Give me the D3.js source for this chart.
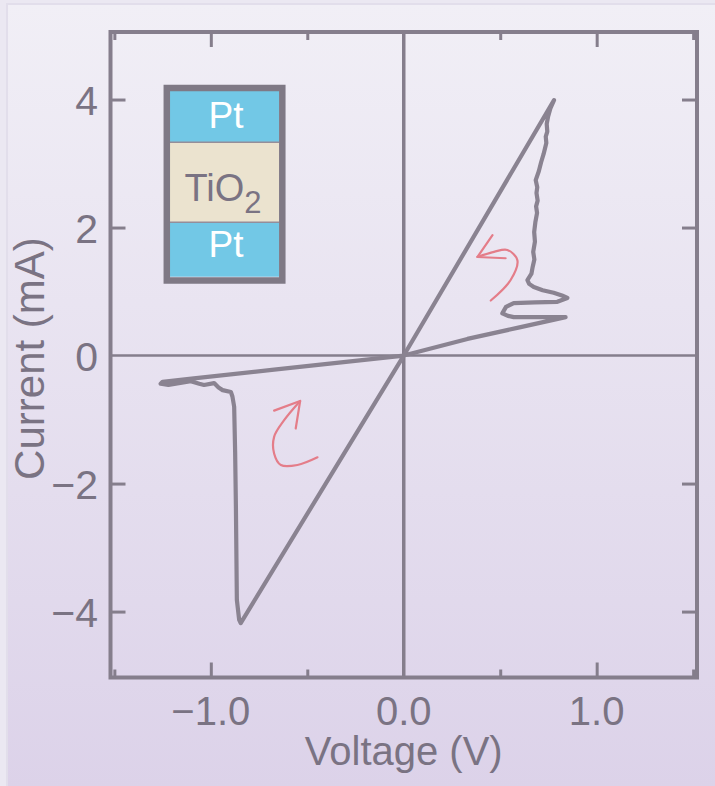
<!DOCTYPE html>
<html>
<head>
<meta charset="utf-8">
<script src="https://cdn.jsdelivr.net/npm/d3@7"></script>
<style>
  html, body { margin: 0; padding: 0; background: #ebe8f2; }
  svg { display: block; }
</style>
</head>
<body>
<div id="chart"></div>
<script>
// I-V sweep of a Pt/TiO2/Pt cell (voltage in V, current in mA)
const sweepV = [0, 0.779, 0.760, 0.748, 0.741, 0.744, 0.736, 0.739, 0.725, 0.712, 0.700, 0.684, 0.692, 0.688,
  0.694, 0.686, 0.691, 0.682, 0.676, 0.680, 0.671, 0.677, 0.668, 0.662, 0.641, 0.650, 0.674, 0.720, 0.777, 0.820,
  0.848, 0.796, 0.680, 0.570, 0.530, 0.511, 0.540, 0.570, 0.700, 0.839, 0.600, 0.330, 0,
  -0.672, -1.100, -1.250, -1.260, -1.220, -1.104, -1.060, -1.035, -0.983, -0.960, -0.939, -0.896, -0.888,
  -0.879, -0.874, -0.870, -0.865, -0.853, -0.845, 0];
const sweepI = [0, 3.99, 3.86, 3.73, 3.62, 3.50, 3.42, 3.32, 3.15, 3.02, 2.88, 2.74, 2.63, 2.54,
  2.42, 2.33, 2.23, 2.08, 1.93, 1.78, 1.62, 1.50, 1.38, 1.28, 1.18, 1.12, 1.07, 1.02, 0.98, 0.94,
  0.90, 0.84, 0.83, 0.82, 0.76, 0.66, 0.62, 0.60, 0.60, 0.60, 0.44, 0.26, 0,
  -0.22, -0.36, -0.41, -0.44, -0.46, -0.40, -0.44, -0.46, -0.43, -0.50, -0.54, -0.57, -0.64,
  -0.80, -1.50, -2.36, -3.82, -4.13, -4.18, 0];

// hand-drawn direction arrows (shaft points, then the two barbs around the head)
const arrowUpShaft = [[0.451, 0.86], [0.554, 1.18], [0.589, 1.49], [0.537, 1.65], [0.468, 1.62], [0.382, 1.54]];
const arrowUpBarbs = [[0.460, 1.88], [0.382, 1.54], [0.528, 1.52]];
const arrowDownShaft = [[-0.447, -1.59], [-0.551, -1.71], [-0.637, -1.71], [-0.672, -1.53], [-0.672, -1.27], [-0.620, -1.01], [-0.537, -0.71]];
const arrowDownBarbs = [[-0.672, -0.86], [-0.537, -0.71], [-0.560, -1.14]];

const xMajorTicks = [-1, 0, 1];
const xMajorLabels = ['\u22121.0', '0.0', '1.0'];
const xMinorTicks = [-1.5, -0.5, 0.5, 1.5];
const yMajorTicks = [-4, -2, 2, 4];
const yLabelTicks = [-4, -2, 0, 2, 4];

const insetLayers = ['Pt', 'TiO', 'Pt'];

const width = 715;
const height = 786;
const axisColor = '#857e8c';
const textColor = '#7a7383';
const font = "'Liberation Sans', Arial, sans-serif";

const svg = d3.select('#chart').append('svg')
  .attr('width', width).attr('height', height);

// background
const defs = svg.append('defs');
const grad = defs.append('linearGradient')
  .attr('id', 'bg').attr('x1', 0).attr('y1', 0).attr('x2', 0).attr('y2', 1);
grad.append('stop').attr('offset', '0%').attr('stop-color', '#f1eff6');
grad.append('stop').attr('offset', '100%').attr('stop-color', '#dcd2e9');

svg.append('rect').attr('width', width).attr('height', height).attr('fill', '#ebe8f2');
svg.append('rect')
  .attr('x', 7).attr('y', 4).attr('width', width).attr('height', height)
  .attr('fill', 'url(#bg)')
  .attr('stroke', '#e2deeb').attr('stroke-width', 2);

const x = d3.scaleLinear().domain([-1.52, 1.52]).range([110.5, 697]);
const y = d3.scaleLinear().domain([-5.03, 5.055]).range([677.5, 32]);

const [x0, x1] = x.range();
const [y0, y1] = y.range();

// zero lines
svg.append('line')
  .attr('x1', x(0)).attr('x2', x(0)).attr('y1', y1).attr('y2', y0)
  .attr('stroke', axisColor).attr('stroke-width', 3.5);
svg.append('line')
  .attr('x1', x0).attr('x2', x1).attr('y1', y(0)).attr('y2', y(0))
  .attr('stroke', axisColor).attr('stroke-width', 2.5);

// inward ticks on all four sides
function ticks(axisFn, scale, values, size, transform) {
  const g = svg.append('g')
    .attr('transform', transform)
    .call(axisFn(scale).tickValues(values).tickSize(size).tickFormat(''));
  g.select('.domain').remove();
  g.selectAll('.tick line').attr('stroke', axisColor).attr('stroke-width', 3);
}
const xMajor = xMajorTicks.filter(v => v !== 0);
ticks(d3.axisBottom, x, xMajor, -15, `translate(0,${y0})`);
ticks(d3.axisBottom, x, xMinorTicks, -8, `translate(0,${y0})`);
ticks(d3.axisTop, x, xMajor, -15, `translate(0,${y1})`);
ticks(d3.axisTop, x, xMinorTicks, -8, `translate(0,${y1})`);
ticks(d3.axisLeft, y, yMajorTicks, -15, `translate(${x0},0)`);
ticks(d3.axisRight, y, yMajorTicks, -15, `translate(${x1},0)`);

// frame
svg.append('rect')
  .attr('x', x0).attr('y', y1).attr('width', x1 - x0).attr('height', y0 - y1)
  .attr('fill', 'none').attr('stroke', axisColor).attr('stroke-width', 4);

// tick labels
svg.selectAll('.xlab').data(xMajorTicks).join('text')
  .attr('x', d => x(d)).attr('y', 725)
  .attr('text-anchor', 'middle')
  .attr('font-family', font).attr('font-size', 40)
  .attr('fill', textColor)
  .text((d, i) => xMajorLabels[i]);

svg.selectAll('.ylab').data(yLabelTicks).join('text')
  .attr('x', 98).attr('y', d => y(d) + 15)
  .attr('text-anchor', 'end')
  .attr('font-family', font).attr('font-size', 41)
  .attr('fill', textColor)
  .text(d => d < 0 ? '\u2212' + Math.abs(d) : d);

// axis titles
svg.append('text')
  .attr('x', x(0)).attr('y', 765)
  .attr('text-anchor', 'middle')
  .attr('font-family', font).attr('font-size', 40)
  .attr('fill', textColor)
  .text('Voltage (V)');

svg.append('text')
  .attr('transform', `translate(44,${y(0) + 3}) rotate(-90)`)
  .attr('text-anchor', 'middle')
  .attr('font-family', font).attr('font-size', 42)
  .attr('fill', textColor)
  .text('Current (mA)');

// I-V loop
const loop = sweepV.map((v, i) => [v, sweepI[i]]);
const line = d3.line().x(d => x(d[0])).y(d => y(d[1]));

svg.append('path')
  .attr('d', line(loop))
  .attr('fill', 'none')
  .attr('stroke', '#8a8391').attr('stroke-width', 4.2)
  .attr('stroke-linejoin', 'round').attr('stroke-linecap', 'round');

// pink direction arrows
const curved = d3.line().x(d => x(d[0])).y(d => y(d[1])).curve(d3.curveCatmullRom);
[[arrowUpShaft, arrowUpBarbs], [arrowDownShaft, arrowDownBarbs]].forEach(([shaft, barbs]) => {
  svg.append('path')
    .attr('d', curved(shaft))
    .attr('fill', 'none').attr('stroke', '#e47d89').attr('stroke-width', 2.2)
    .attr('stroke-linecap', 'round');
  svg.append('path')
    .attr('d', line(barbs))
    .attr('fill', 'none').attr('stroke', '#e47d89').attr('stroke-width', 2.2)
    .attr('stroke-linecap', 'round').attr('stroke-linejoin', 'round');
});

// device inset
const inset = svg.append('g');
const layerTops = [90.7, 142.3, 222.3];
const layerBottoms = [142.3, 222.3, 276.7];
insetLayers.forEach((name, i) => {
  inset.append('rect')
    .attr('x', 170).attr('y', layerTops[i])
    .attr('width', 109).attr('height', layerBottoms[i] - layerTops[i])
    .attr('fill', name === 'Pt' ? '#72c8e6' : '#ebe3cf');
});
[142.3, 222.3].forEach(yy => {
  inset.append('line')
    .attr('x1', 170).attr('x2', 279).attr('y1', yy).attr('y2', yy)
    .attr('stroke', '#948e9a').attr('stroke-width', 1.5);
});
inset.append('rect')
  .attr('x', 166.8).attr('y', 88).attr('width', 115.5).attr('height', 192.5)
  .attr('fill', 'none').attr('stroke', '#7f7985').attr('stroke-width', 6.5);

inset.append('text')
  .attr('x', 226).attr('y', 128)
  .attr('text-anchor', 'middle')
  .attr('font-family', font).attr('font-size', 37)
  .attr('fill', '#ffffff')
  .text('Pt');
inset.append('text')
  .attr('x', 226).attr('y', 256.7)
  .attr('text-anchor', 'middle')
  .attr('font-family', font).attr('font-size', 37)
  .attr('fill', '#ffffff')
  .text('Pt');
const tio = inset.append('text')
  .attr('x', 223).attr('y', 200.5)
  .attr('text-anchor', 'middle')
  .attr('font-family', font).attr('font-size', 38)
  .attr('fill', textColor);
tio.append('tspan').text('TiO');
tio.append('tspan').attr('dy', 12).attr('font-size', 31).text('2');
</script>
</body>
</html>
